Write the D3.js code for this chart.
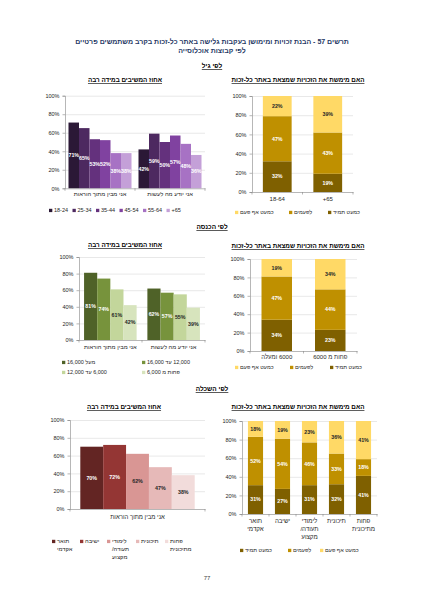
<!DOCTYPE html>
<html>
<head>
<meta charset="utf-8">
<script src="https://cdn.jsdelivr.net/npm/d3@7"></script>
<style>
  html, body { margin: 0; padding: 0; background: #fff; }
  svg { display: block; font-family: "Liberation Sans", Arial, "DejaVu Sans", sans-serif; }
</style>
</head>
<body>
<div id="page"></div>
<script>
// ---- data ----
const responseCats = ["אני מבין מתוך הוראות", "אני יודע מה לעשות"];
const usageKeys = ["כמעט תמיד", "לפעמים", "כמעט אף פעם"];
const pctTicks = [0, 20, 40, 60, 80, 100];

// by age
const ageGroups = ["18-24", "25-34", "35-44", "45-54", "55-64", "+65"];
const ageUnderstand = [71, 65, 53, 52, 38, 38];
const ageKnow = [42, 59, 50, 57, 48, 36];
const ageStackCats = ["18-64", "+65"];
const ageAlways = [32, 19];
const ageSometimes = [47, 43];
const ageNever = [22, 39];

// by income
const incomeGroups = ["מעל 16,000", "12,000 עד 16,000", "6,000 עד 12,000", "פחות מ 6,000"];
const incomeUnderstand = [81, 74, 61, 42];
const incomeKnow = [62, 57, 55, 39];
const incomeStackCats = ["6000 ומעלה", "פחות מ 6000"];
const incomeAlways = [34, 23];
const incomeSometimes = [47, 44];
const incomeNever = [19, 34];

// by education
const eduCats = ["אני מבין מתוך הוראות"];
const eduGroups = ["תואר אקדמי", "ישיבה", "לימודי תעודה/ מקצוע", "תיכונית", "פחות מתיכונית"];
const eduUnderstand = [70, 72, 62, 47, 38];
const eduAlways = [31, 27, 31, 32, 41];
const eduSometimes = [52, 54, 46, 33, 18];
const eduNever = [18, 19, 23, 36, 41];

// ---- colours ----
const purples = ["#2b1836", "#4d2960", "#64317d", "#8042a0", "#a772c4", "#c4a0d8"];
const purpleText = ["#fff", "#fff", "#fff", "#fff", "#fff", "#fff"];
const greens = ["#4f6228", "#77933c", "#c3d69b", "#d7e4bd"];
const greenText = ["#fff", "#fff", "#262626", "#262626"];
const reds = ["#632523", "#943634", "#d99694", "#e6b9b8", "#f2dcdb"];
const redText = ["#fff", "#fff", "#262626", "#262626", "#262626"];
const golds = ["#7f6000", "#bf9000", "#ffd966"];
const goldText = ["#fff", "#fff", "#262626"];

const W = 424, H = 600;
const svg = d3.select("#page").append("svg").attr("width", W).attr("height", H);
svg.append("rect").attr("width", W).attr("height", H).attr("fill", "#fff");

const isHeb = s => /[\u0590-\u05FF]/.test(s);

// anchor is physical: left / middle / right
function setAnchor(sel, s, anchor) {
  const rtl = isHeb(s);
  sel.style("direction", rtl ? "rtl" : "ltr");
  let a = "middle";
  if (anchor === "left") a = rtl ? "end" : "start";
  if (anchor === "right") a = rtl ? "start" : "end";
  return sel.attr("text-anchor", a);
}

function label(x, y, s, opts = {}) {
  const t = svg.append("text")
    .attr("x", x).attr("y", y)
    .style("font-size", (opts.size || 6) + "px")
    .style("font-weight", opts.bold ? "bold" : "normal")
    .attr("fill", opts.fill || "#000")
    .text(s);
  if (opts.underline) t.style("text-decoration", "underline");
  setAnchor(t, s, opts.anchor || "middle");
  return t;
}

function wrapLines(s, maxW, size) {
  const probe = svg.append("text").style("font-size", size + "px");
  const out = [];
  let cur = "";
  s.split(" ").forEach(w => {
    const t = cur ? cur + " " + w : w;
    probe.text(t);
    if (cur && probe.node().getComputedTextLength() > maxW) { out.push(cur); cur = w; }
    else cur = t;
  });
  if (cur) out.push(cur);
  probe.remove();
  return out;
}

function multiLine(g, x, y, s, size, maxW, anchor, lh) {
  const t = g.append("text").attr("y", y).style("font-size", size + "px").attr("fill", "#262626");
  setAnchor(t, s, anchor);
  const lines = maxW ? wrapLines(s, maxW, size) : [s];
  lines.forEach((ln, i) => t.append("tspan").attr("x", x).attr("dy", i ? lh : 0).text(ln));
  return t;
}

function yAxis(g, y, x0, x1) {
  g.append("g").attr("transform", `translate(${x0},0)`)
    .call(d3.axisLeft(y).tickValues(pctTicks.slice(1)).tickSize(-(x1 - x0)).tickFormat(""))
    .call(a => a.select(".domain").remove())
    .call(a => a.selectAll("line").attr("stroke", "#d9d9d9").attr("stroke-width", 0.6));
  g.append("g").attr("transform", `translate(${x0},0)`)
    .call(d3.axisLeft(y).tickValues(pctTicks).tickSize(2.5).tickPadding(3).tickFormat(d => d + "%"))
    .call(a => a.select(".domain").attr("stroke", "#868686").attr("stroke-width", 0.6))
    .call(a => a.selectAll("line").attr("stroke", "#868686").attr("stroke-width", 0.6))
    .call(a => a.selectAll("text").style("font-size", "5.5px").attr("fill", "#262626").style("font-family", null));
}

function xAxis(g, x, yBot, opts) {
  const ax = g.append("g").attr("transform", `translate(0,${yBot})`)
    .call(d3.axisBottom(x).tickSize(0).tickSizeOuter(0).tickFormat(""));
  ax.select(".domain").attr("stroke", "#868686").attr("stroke-width", 0.6);
  // category separator ticks
  const cats = x.domain();
  const bounds = [x.range()[0]];
  for (let k = 1; k < cats.length; k++) bounds.push((x(cats[k - 1]) + x.bandwidth() + x(cats[k])) / 2);
  bounds.push(x.range()[1]);
  ax.selectAll(".sep").data(bounds).join("line").attr("class", "sep")
    .attr("x1", d => d).attr("x2", d => d).attr("y1", 0).attr("y2", 2.5)
    .attr("stroke", "#868686").attr("stroke-width", 0.6);
  cats.forEach(c => multiLine(g, x(c) + x.bandwidth() / 2, yBot + opts.dy, c, opts.size, opts.wrap, "middle", opts.lh || 8));
}

function legend(items, colors, xs, ys, opts) {
  const g = svg.append("g");
  items.forEach((s, i) => {
    g.append("rect").attr("x", xs[i]).attr("y", ys[i] - 3.2)
      .attr("width", 3.3).attr("height", 3.3).attr("fill", colors[i]);
    multiLine(g, xs[i] + 5, ys[i], s, opts.size, opts.wrap, "left", opts.lh || 7.5);
  });
}

function groupedChart(cfg) {
  const g = svg.append("g");
  const x = d3.scaleBand().domain(cfg.cats).range([cfg.x0, cfg.x1]).paddingInner(cfg.pi).paddingOuter(cfg.po);
  const xs = d3.scaleBand().domain(cfg.groups).range([0, x.bandwidth()]);
  const y = d3.scaleLinear().domain([0, 100]).range([cfg.yBot, cfg.yTop]);
  yAxis(g, y, cfg.x0, cfg.x1);
  cfg.cats.forEach((c, ci) => {
    const vals = cfg.values[ci];
    const bars = g.append("g").attr("transform", `translate(${x(c)},0)`);
    bars.selectAll("rect").data(vals).join("rect")
      .attr("x", (d, i) => xs(cfg.groups[i]))
      .attr("y", d => y(d))
      .attr("width", xs.bandwidth())
      .attr("height", d => cfg.yBot - y(d))
      .attr("fill", (d, i) => cfg.colors[i]);
    bars.selectAll("text").data(vals).join("text")
      .attr("x", (d, i) => xs(cfg.groups[i]) + xs.bandwidth() / 2)
      .attr("y", d => y(d / 2))
      .attr("dy", "0.35em")
      .attr("text-anchor", "middle")
      .style("font-size", "5.3px").style("font-weight", "bold")
      .attr("fill", (d, i) => cfg.textColors[i])
      .text(d => d + "%");
  });
  xAxis(g, x, cfg.yBot, cfg.xLab);
}

function stackedChart(cfg) {
  const g = svg.append("g");
  const rows = cfg.cats.map((c, i) => ({ cat: c, [usageKeys[0]]: cfg.always[i], [usageKeys[1]]: cfg.sometimes[i], [usageKeys[2]]: cfg.never[i] }));
  const series = d3.stack().keys(usageKeys)(rows);
  const x = d3.scaleBand().domain(cfg.cats).range([cfg.x0, cfg.x1]).paddingInner(cfg.pi).paddingOuter(cfg.pi / 2);
  const y = d3.scaleLinear().domain([0, 100]).range([cfg.yBot, cfg.yTop]).clamp(true);
  yAxis(g, y, cfg.x0, cfg.x1);
  series.forEach((s, si) => {
    const sg = g.append("g");
    sg.selectAll("rect").data(s).join("rect")
      .attr("x", d => x(d.data.cat))
      .attr("y", d => y(d[1]))
      .attr("width", x.bandwidth())
      .attr("height", d => y(d[0]) - y(d[1]))
      .attr("fill", golds[si]);
    sg.selectAll("text").data(s).join("text")
      .attr("x", d => x(d.data.cat) + x.bandwidth() / 2)
      .attr("y", d => (y(d[0]) + y(d[1])) / 2)
      .attr("dy", "0.35em")
      .attr("text-anchor", "middle")
      .style("font-size", "5.3px").style("font-weight", "bold")
      .attr("fill", goldText[si])
      .text(d => (d[1] - d[0]) + "%");
  });
  xAxis(g, x, cfg.yBot, cfg.xLab);
}

// ---- page text ----
const navy = "#1f3864";
label(212, 44, "תרשים 57 - הבנת זכויות ומימושן בעקבות גלישה באתר כל-זכות בקרב משתמשים פרטיים", { size: 7, bold: true, fill: navy });
label(212, 53, "לפי קבוצות אוכלוסייה", { size: 7, bold: true, fill: navy });

const leftTitle = "אחוז המשיבים במידה רבה";
const rightTitle = "האם מימשת את הזכויות שמצאת באתר כל-זכות";

// ---- section: age ----
label(212, 68, "לפי גיל", { size: 6.5, bold: true, underline: true });
label(125, 82, leftTitle, { size: 6.3, bold: true, underline: true });
label(298, 82, rightTitle, { size: 6.3, bold: true, underline: true });

groupedChart({
  cats: responseCats, groups: ageGroups, values: [ageUnderstand, ageKnow],
  colors: purples, textColors: purpleText,
  x0: 65, x1: 205, yTop: 95.7, yBot: 188.3, pi: 0.1, po: 0.05,
  xLab: { dy: 7.5, size: 5.8 }
});
legend(ageGroups, purples, [49, 72.5, 96, 119.5, 143, 166.5], [212, 212, 212, 212, 212, 212], { size: 5.5 });

stackedChart({
  cats: ageStackCats, always: ageAlways, sometimes: ageSometimes, never: ageNever,
  x0: 252, x1: 353, yTop: 96, yBot: 192, pi: 0.43,
  xLab: { dy: 9, size: 6 }
});
legend(usageKeys.slice().reverse(), golds.slice().reverse(), [235, 289, 328], [214, 214, 214], { size: 5.5 });

// ---- section: income ----
label(212, 229, "לפי הכנסה", { size: 6.5, bold: true, underline: true });
label(125, 247, leftTitle, { size: 6.3, bold: true, underline: true });
label(298, 248, rightTitle, { size: 6.3, bold: true, underline: true });

groupedChart({
  cats: responseCats, groups: incomeGroups, values: [incomeUnderstand, incomeKnow],
  colors: greens, textColors: greenText,
  x0: 79, x1: 205, yTop: 257, yBot: 340, pi: 0.17, po: 0.08,
  xLab: { dy: 9, size: 5.8 }
});
legend(incomeGroups, greens, [62, 142, 62, 142], [364, 364, 374, 374], { size: 5.5 });

stackedChart({
  cats: incomeStackCats, always: incomeAlways, sometimes: incomeSometimes, never: incomeNever,
  x0: 250, x1: 357, yTop: 259, yBot: 351, pi: 0.43,
  xLab: { dy: 7.5, size: 6 }
});
legend(usageKeys.slice().reverse(), golds.slice().reverse(), [235, 290, 330], [369, 369, 369], { size: 5.5 });

// ---- section: education ----
label(212, 391, "לפי השכלה", { size: 6.5, bold: true, underline: true });
label(124, 409, leftTitle, { size: 6.3, bold: true, underline: true });
label(298, 409, rightTitle, { size: 6.3, bold: true, underline: true });

groupedChart({
  cats: eduCats, groups: eduGroups, values: [eduUnderstand],
  colors: reds, textColors: redText,
  x0: 70, x1: 205, yTop: 420, yBot: 509, pi: 0, po: 0.09,
  xLab: { dy: 9.5, size: 6 }
});
legend(eduGroups, reds, [52, 80, 107, 136, 165], [543, 543, 543, 543, 543], { size: 5.8, wrap: 20, lh: 8 });

stackedChart({
  cats: eduGroups, always: eduAlways, sometimes: eduSometimes, never: eduNever,
  x0: 242, x1: 377, yTop: 421, yBot: 514, pi: 0.44,
  xLab: { dy: 8.5, size: 6.2, wrap: 24, lh: 8.3 }
});
legend(usageKeys, golds, [240, 288, 320], [552, 552, 552], { size: 5.5 });

label(207, 580, "77", { size: 6, fill: "#404040" });
</script>
</body>
</html>
